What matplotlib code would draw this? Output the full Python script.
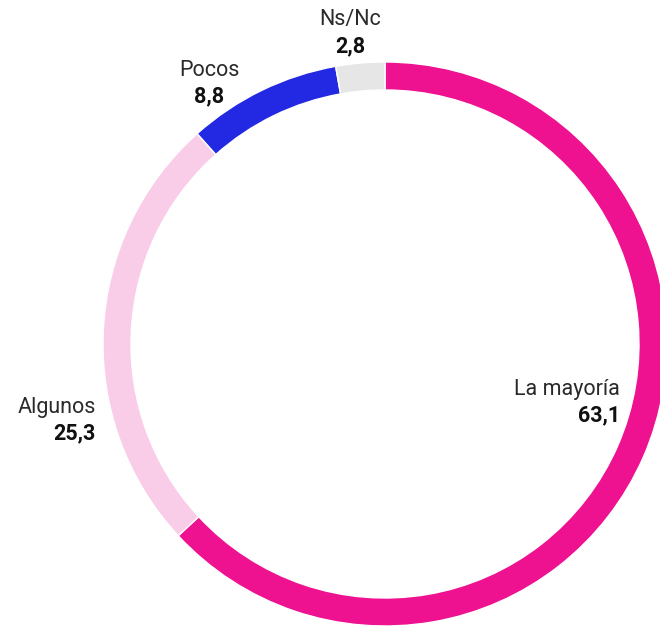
import matplotlib.pyplot as plt

plt.switch_backend('Agg')

# ---------- Datos ----------
labels = ["La mayoría", "Algunos", "Pocos", "Ns/Nc"]
values = [63.1, 25.3, 8.8, 2.8]
colors = ["#EE1190", "#F9CDE8", "#2329E3", "#E6E6E6"]

# posiciones de las etiquetas (px, origen arriba-izquierda) y alineación
label_pos = [(620, 389, 'right'), (96, 407, 'right'), (209, 70, 'center'), (350, 20, 'center')]

W, H = 660, 626
cx, cy, r, ring = 385, 344, 282, 28

fig = plt.figure(figsize=(W / 100, H / 100), dpi=100)
ax = fig.add_axes([0, 0, 1, 1])

ax.pie(values, colors=colors, startangle=90, counterclock=False,
       radius=r, center=(cx, H - cy),
       wedgeprops=dict(width=ring, edgecolor="white", linewidth=1))

ax.set_xlim(0, W)
ax.set_ylim(0, H)
ax.set_aspect('equal')
ax.axis('off')

for lab, val, (x, y, ha) in zip(labels, values, label_pos):
    ax.text(x, H - y, lab, ha=ha, va='center', fontsize=15.5,
            family='Roboto', fontweight='normal', color='#2a2a2a')
    ax.text(x, H - y - 26, f"{val:.1f}".replace(".", ","), ha=ha, va='center',
            fontsize=15.5, family='Roboto', fontweight='bold', color='#111111')

fig.savefig("out.png", dpi=100)
plt.close(fig)
